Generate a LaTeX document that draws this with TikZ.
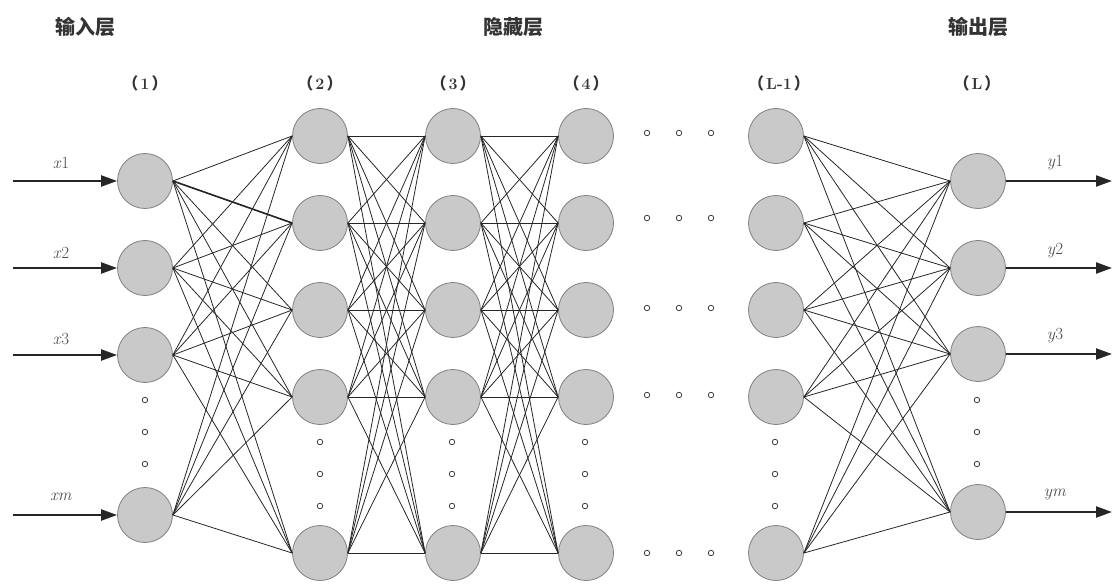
\documentclass[tikz,border=0pt]{standalone}
\usepackage{fontspec}
\newfontfamily\cjk{Noto Sans CJK SC}
\usetikzlibrary{arrows.meta}
\newcommand{\lyr}[1]{{\cjk （}\hspace{2pt}#1\hspace{2pt}{\cjk ）}}
\begin{document}
\begin{tikzpicture}[x=1pt,y=-1pt,
  neuron/.style={circle,draw=black!50,fill=black!21,line width=0.8pt,minimum size=55pt,inner sep=0pt},
  odot/.style={circle,draw=black!75,fill=white,line width=0.8pt,minimum size=5.5pt,inner sep=0pt},
  edge/.style={draw=black!85,line width=0.8pt},
  io/.style={draw=black!85,line width=2.2pt,-{Triangle[length=16pt,width=11pt]}},
  title/.style={font=\cjk\bfseries\fontsize{20}{24}\selectfont,text=black!80},
  lnum/.style={font=\bfseries\fontsize{16}{19}\selectfont,text=black!80},
  vlab/.style={font=\fontsize{17}{20}\selectfont,text=black!70}]
\useasboundingbox (0,0) rectangle (1119,585);

% titles
\node[title] (t1) at (85,27) {输入层};
\node[title] (t2) at (513,27) {隐藏层};
\node[title] (t3) at (978,27) {输出层};

% layer numbers
\node[lnum] (n1) at (145,83) {\lyr{1}};
\node[lnum] (n2) at (320,83) {\lyr{2}};
\node[lnum] (n3) at (453,83) {\lyr{3}};
\node[lnum] (n4) at (586,83) {\lyr{4}};
\node[lnum] (n5) at (779,83) {\lyr{L-1}};
\node[lnum] (n6) at (977,83) {\lyr{L}};

% input layer
\foreach \i/\y in {1/181,2/268,3/355,4/515} \node[neuron] (a\i) at (145,\y) {};
% hidden layers
\foreach \L/\x in {b/320,c/453,d/586,e/776}
  \foreach \i/\y in {1/136,2/223,3/310,4/397,5/553}
    \node[neuron] (\L\i) at (\x,\y) {};
% output layer
\foreach \i/\y in {1/181,2/268,3/354,4/512} \node[neuron] (f\i) at (978,\y) {};

% vertical ellipsis dots
\foreach \j/\y in {1/400,2/432,3/464} {
  \node[odot] (da\j) at (145,\y) {};
  \node[odot] (df\j) at (977,\y) {};
}
\foreach \L/\x in {b/320,c/452,d/585,e/775}
  \foreach \j/\y in {1/442,2/474,3/506}
    \node[odot] (d\L\j) at (\x,\y) {};
% horizontal ellipsis dots
\foreach \r/\y in {1/133,2/218,3/308,4/395,5/553}
  \foreach \j/\x in {1/647,2/679,3/711}
    \node[odot] (h\r\j) at (\x,\y) {};

% connections
\foreach \i in {1,...,4}
  \foreach \k in {1,...,5}
    \draw[edge] (a\i.east) -- (b\k.west);
\draw[edge,line width=1.6pt] (a1.east) -- (b2.west);
\foreach \i in {1,...,5}
  \foreach \k in {1,...,5} {
    \draw[edge] (b\i.east) -- (c\k.west);
    \draw[edge] (c\i.east) -- (d\k.west);
  }
\foreach \i in {1,...,5}
  \foreach \k in {1,...,4}
    \draw[edge] (e\i.east) -- (f\k.west);

% inputs
\foreach \i/\y in {1/181,2/268,3/355,4/515} {
  \coordinate (in\i) at (13,\y);
  \draw[io] (in\i) -- (a\i.west);
}
\node[vlab] (x1) at (61,163) {\textit{x}1};
\node[vlab] (x2) at (61,253) {\textit{x}2};
\node[vlab] (x3) at (61,339) {\textit{x}3};
\node[vlab] (xm) at (61,497) {\textit{xm}};

% outputs
\foreach \i/\y in {1/181,2/268,3/354,4/512} {
  \coordinate (out\i) at (1112,\y);
  \draw[io] (f\i.east) -- (out\i);
}
\node[vlab] (y1) at (1055,163) {\textit{y}1};
\node[vlab] (y2) at (1055,251) {\textit{y}2};
\node[vlab] (y3) at (1055,336) {\textit{y}3};
\node[vlab] (ym) at (1055,494) {\textit{ym}};
\end{tikzpicture}
\end{document}
